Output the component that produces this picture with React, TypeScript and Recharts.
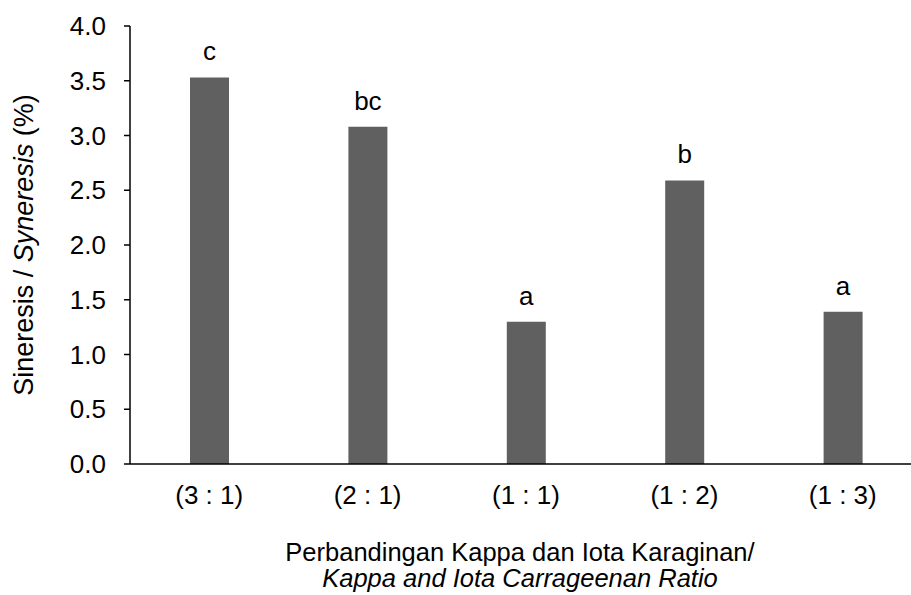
import React from 'react';
import { BarChart, Bar, XAxis, YAxis, LabelList } from 'recharts';

const ratios = ['(3 : 1)', '(2 : 1)', '(1 : 1)', '(1 : 2)', '(1 : 3)'];
const syneresis = [3.53, 3.08, 1.3, 2.59, 1.39];
const letters = ['c', 'bc', 'a', 'b', 'a'];
const yTicks = [0, 0.5, 1, 1.5, 2, 2.5, 3, 3.5, 4];

const data = ratios.map((r, i) => ({ ratio: r, value: syneresis[i], letter: letters[i] }));

const FONT = 'Arial, "Liberation Sans", sans-serif';
const FS = 26;
const tickStyle = { fill: '#000', fontSize: FS, fontFamily: FONT };

const YTitle = () => (
  <text
    x={0}
    y={0}
    transform="translate(33, 245) rotate(-90)"
    textAnchor="middle"
    fontFamily={FONT}
    fontSize={27}
    fill="#000"
  >
    <tspan>Sineresis / </tspan>
    <tspan fontStyle="italic">Syneresis</tspan>
    <tspan> (%)</tspan>
  </text>
);

// two separate lines, like the source figure
const XTitle = () => (
  <g fontFamily={FONT} fill="#000">
    <text x={520} y={561} textAnchor="middle" fontSize={25.5}>
      Perbandingan Kappa dan Iota Karaginan/
    </text>
    <text x={520} y={587} textAnchor="middle" fontSize={25.5} fontStyle="italic">
      Kappa and Iota Carrageenan Ratio
    </text>
  </g>
);

export default function App() {
  return (
    <div
      style={{
        position: 'fixed',
        top: 0,
        left: 0,
        width: 911,
        height: 595,
        overflow: 'hidden',
        background: '#fff',
      }}
    >
      <BarChart
        width={930}
        height={595}
        data={data}
        margin={{ top: 26, right: 8, bottom: 0, left: 0 }}
      >
        <XAxis
          dataKey="ratio"
          height={131}
          tickLine={false}
          tickSize={6}
          tickMargin={16}
          axisLine={{ stroke: '#000', strokeWidth: 1.5 }}
          tick={tickStyle}
          label={<XTitle />}
        />
        <YAxis
          width={130}
          domain={[0, 4]}
          ticks={yTicks}
          interval={0}
          tickFormatter={(v: number) => v.toFixed(1)}
          tickSize={6}
          tickMargin={18}
          tickLine={{ stroke: '#000', strokeWidth: 1.5 }}
          axisLine={{ stroke: '#000', strokeWidth: 1.5 }}
          tick={tickStyle}
          label={<YTitle />}
        />
        <Bar dataKey="value" fill="#606060" barSize={39} isAnimationActive={false}>
          <LabelList
            dataKey="letter"
            position="top"
            offset={17}
            fill="#000"
            fontSize={FS}
            fontFamily={FONT}
          />
        </Bar>
      </BarChart>
    </div>
  );
}
